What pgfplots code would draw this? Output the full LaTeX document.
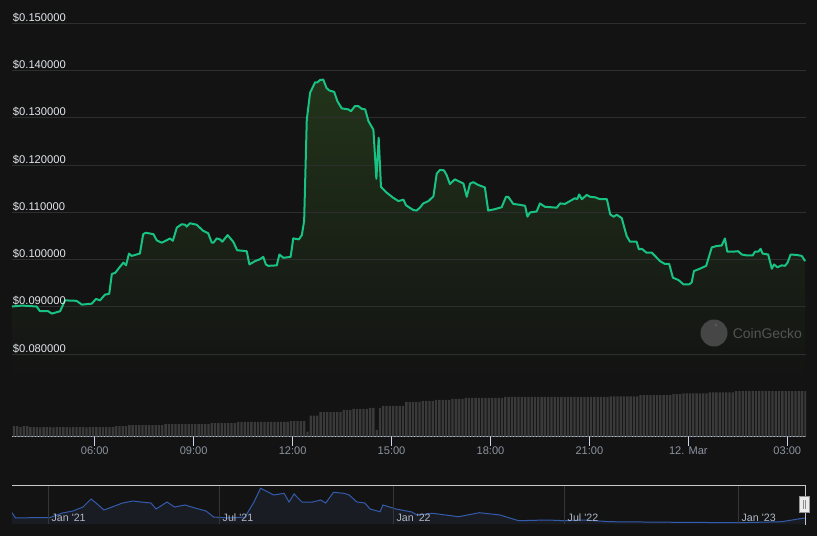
\documentclass[border=0pt]{standalone}
\usepackage{pgfplots}
\usepackage{pgfplotstable}
\pgfplotsset{compat=1.18}
\usepackage{fontspec}
\setmainfont{Liberation Sans}

\definecolor{bg}{RGB}{19,19,19}
\definecolor{gridc}{RGB}{46,46,46}
\definecolor{linegreen}{RGB}{24,194,131}
\definecolor{fillgreen}{RGB}{34,52,26}
\definecolor{volbar}{RGB}{58,58,58}
\definecolor{axisline}{RGB}{204,214,235}
\definecolor{xlab}{RGB}{140,148,160}
\definecolor{ylab}{RGB}{226,230,236}
\definecolor{navgrid}{RGB}{54,54,54}
\definecolor{navblue}{RGB}{51,92,173}
\definecolor{navfill}{RGB}{26,28,36}
\definecolor{navoutline}{RGB}{200,200,200}
\definecolor{navlab}{RGB}{176,184,196}
\definecolor{handlefill}{RGB}{236,236,236}
\definecolor{handledraw}{RGB}{150,150,150}
\definecolor{handlegrip}{RGB}{140,140,140}
\definecolor{wmcircle}{RGB}{70,70,70}
\definecolor{wmeye}{RGB}{88,88,88}
\definecolor{wmtext}{RGB}{84,84,84}

\pgfplotsset{
  pricepane/.style={
    at={(9pt,118.575pt)}, anchor=south west, scale only axis,
    width=595.5pt, height=265.95pt,
    xmin=3.492, xmax=27.567, ymin=0.075, ymax=0.150,
    axis line style={draw=none}, xtick=\empty,
    scaled y ticks=false, major tick length=0pt,
  },
}

% price, hours since 11 Mar 00:00 -> USD
\pgfplotstableread{
h p
3.49 0.0901
3.79 0.0903
4.24 0.0901
4.34 0.0891
4.59 0.0891
4.70 0.0886
4.95 0.0891
5.10 0.0914
5.45 0.0913
5.61 0.0905
5.91 0.0907
6.04 0.0917
6.16 0.0914
6.31 0.0926
6.44 0.0928
6.52 0.0970
6.62 0.0972
6.72 0.0981
6.87 0.0994
6.95 0.0988
7.04 0.1013
7.12 0.1008
7.37 0.1013
7.47 0.1054
7.55 0.1057
7.78 0.1054
7.88 0.1041
8.03 0.1036
8.18 0.1041
8.28 0.1045
8.37 0.1040
8.49 0.1068
8.64 0.1075
8.74 0.1074
8.79 0.1070
8.89 0.1077
9.09 0.1074
9.29 0.1061
9.44 0.1056
9.55 0.1036
9.60 0.1036
9.70 0.1045
9.80 0.1043
9.87 0.1038
10.03 0.1052
10.20 0.1038
10.32 0.1020
10.61 0.1018
10.69 0.0990
10.86 0.0997
11.01 0.1001
11.11 0.1006
11.19 0.0990
11.26 0.0987
11.52 0.0988
11.60 0.1011
11.72 0.1004
11.94 0.1006
12.02 0.1045
12.19 0.1043
12.28 0.1052
12.35 0.1082
12.43 0.1296
12.53 0.1353
12.68 0.1375
12.75 0.1375
12.83 0.1380
12.93 0.1381
13.03 0.1363
13.11 0.1358
13.26 0.1355
13.36 0.1335
13.49 0.1320
13.69 0.1318
13.77 0.1314
13.89 0.1325
13.99 0.1325
14.10 0.1319
14.20 0.1318
14.30 0.1293
14.45 0.1275
14.54 0.1171
14.61 0.1258
14.68 0.1154
14.85 0.1142
15.05 0.1131
15.21 0.1124
15.36 0.1127
15.44 0.1115
15.66 0.1105
15.76 0.1104
15.86 0.1110
15.96 0.1119
16.12 0.1124
16.27 0.1134
16.37 0.1182
16.47 0.1190
16.59 0.1189
16.67 0.1179
16.77 0.1160
16.92 0.1170
17.18 0.1161
17.28 0.1133
17.38 0.1161
17.48 0.1164
17.63 0.1158
17.83 0.1153
17.93 0.1104
18.14 0.1107
18.34 0.1111
18.47 0.1133
18.54 0.1133
18.69 0.1118
18.90 0.1116
19.05 0.1114
19.12 0.1091
19.20 0.1100
19.40 0.1102
19.50 0.1119
19.65 0.1112
20.01 0.1110
20.11 0.1119
20.26 0.1118
20.46 0.1126
20.56 0.1130
20.63 0.1128
20.69 0.1138
20.77 0.1128
20.92 0.1137
21.02 0.1133
21.17 0.1132
21.32 0.1128
21.53 0.1128
21.63 0.1096
21.73 0.1091
21.83 0.1095
21.98 0.1088
22.05 0.1070
22.13 0.1050
22.23 0.1038
22.43 0.1038
22.50 0.1022
22.59 0.1023
22.73 0.1015
22.89 0.1015
22.99 0.1008
23.14 0.0997
23.29 0.0991
23.42 0.0991
23.53 0.0962
23.70 0.0957
23.85 0.0948
24.03 0.0948
24.10 0.0952
24.17 0.0976
24.35 0.0981
24.54 0.0987
24.71 0.1026
24.86 0.1029
25.01 0.1030
25.11 0.1045
25.18 0.1017
25.36 0.1017
25.51 0.1018
25.62 0.1011
25.77 0.1009
25.95 0.1009
26.02 0.1017
26.12 0.1017
26.19 0.1023
26.25 0.1013
26.42 0.1011
26.53 0.0981
26.60 0.0990
26.70 0.0984
26.83 0.0988
26.93 0.0987
27.01 0.0994
27.10 0.1011
27.29 0.1010
27.44 0.1008
27.54 0.0997
}\price

% volume, bar heights (arbitrary units)
\pgfplotstableread{
h v
3.55 10.5
3.65 10.5
3.75 9.5
3.85 10.5
3.95 10.5
4.05 9.5
4.15 9.5
4.25 9.5
4.35 9.2
4.45 9.5
4.55 9.5
4.65 9.5
4.75 9.2
4.85 9.5
4.95 9.5
5.05 9.5
5.15 9.5
5.25 9.2
5.35 9.5
5.45 9.5
5.55 9.5
5.65 9.5
5.75 9.2
5.85 9.5
5.95 9.5
6.05 9.5
6.15 9.5
6.25 9.5
6.35 9.5
6.45 9.5
6.55 9.5
6.65 10.5
6.75 10.5
6.85 10.5
6.95 10.5
7.05 11.3
7.15 11.3
7.25 11.3
7.35 11.3
7.45 11.3
7.55 11.3
7.65 11.3
7.75 11.3
7.85 11.3
7.95 11.3
8.05 11.3
8.15 12.3
8.25 12.3
8.35 12.3
8.45 12.3
8.55 12.3
8.65 12.3
8.75 12.3
8.85 12.3
8.95 12.3
9.05 12.3
9.15 12.3
9.25 12.3
9.35 12.3
9.45 12.3
9.55 13.3
9.65 13.3
9.75 13.3
9.85 13.3
9.95 13.3
10.05 13.3
10.15 13.3
10.25 13.3
10.35 14.7
10.45 14.7
10.55 14.7
10.65 14.7
10.75 14.7
10.85 14.7
10.95 14.7
11.05 14.7
11.15 14.7
11.25 14.7
11.35 14.7
11.45 14.7
11.55 14.7
11.65 14.7
11.75 14.7
11.85 14.7
11.95 15.5
12.05 15.5
12.15 15.5
12.25 15.5
12.35 15.5
12.45 5.0
12.55 21.0
12.65 21.0
12.75 21.0
12.85 24.3
12.95 24.3
13.05 24.3
13.15 24.3
13.25 24.3
13.35 24.3
13.45 24.3
13.55 26.7
13.65 26.7
13.75 26.7
13.85 27.7
13.95 27.7
14.05 27.7
14.15 27.7
14.25 27.7
14.35 28.7
14.45 28.7
14.55 6.7
14.65 28.7
14.75 30.7
14.85 30.7
14.95 30.7
15.05 30.7
15.15 30.7
15.25 30.7
15.35 30.7
15.45 34.7
15.55 34.7
15.65 34.7
15.75 34.7
15.85 34.7
15.95 35.7
16.05 35.7
16.15 35.7
16.25 35.7
16.35 36.7
16.45 36.7
16.55 36.7
16.65 36.7
16.75 36.7
16.85 37.7
16.95 37.7
17.05 37.7
17.15 37.7
17.25 38.7
17.35 38.7
17.45 38.7
17.55 38.7
17.65 38.7
17.75 38.7
17.85 38.7
17.95 38.7
18.05 38.7
18.15 38.7
18.25 38.7
18.35 38.7
18.45 39.7
18.55 39.7
18.65 39.7
18.75 39.7
18.85 39.7
18.95 39.7
19.05 39.7
19.15 39.7
19.25 39.7
19.35 39.7
19.45 39.7
19.55 39.7
19.65 39.7
19.75 39.7
19.85 39.7
19.95 39.7
20.05 39.7
20.15 39.7
20.25 39.7
20.35 39.7
20.45 39.7
20.55 39.7
20.65 39.7
20.75 39.7
20.85 39.7
20.95 39.7
21.05 39.7
21.15 39.7
21.25 39.7
21.35 39.7
21.45 39.7
21.55 39.7
21.65 40.2
21.75 40.2
21.85 40.2
21.95 40.2
22.05 40.2
22.15 40.2
22.25 40.2
22.35 40.2
22.45 40.2
22.55 41.5
22.65 41.5
22.75 41.5
22.85 41.5
22.95 41.5
23.05 41.5
23.15 41.5
23.25 41.5
23.35 41.5
23.45 41.5
23.55 42.5
23.65 42.5
23.75 42.5
23.85 43.2
23.95 43.2
24.05 43.2
24.15 43.2
24.25 43.2
24.35 43.2
24.45 43.2
24.55 43.2
24.65 44.2
24.75 44.2
24.85 44.2
24.95 44.2
25.05 44.2
25.15 44.2
25.25 44.2
25.35 44.2
25.45 45.5
25.55 45.5
25.65 45.5
25.75 45.5
25.85 45.5
25.95 45.5
26.05 45.5
26.15 45.5
26.25 45.5
26.35 45.5
26.45 45.5
26.55 45.5
26.65 45.5
26.75 45.5
26.85 45.5
26.95 45.5
27.05 45.5
27.15 45.5
27.25 45.5
27.35 45.5
27.45 45.5
27.55 45.5
}\volume

% navigator, days since 1 Jan 2021
\pgfplotstableread{
d v
-38.1 11.3
-34.3 6
-18 6.3
1.6 6.3
15.3 11
26.4 13
37 17
45.5 25
50.8 21
59.2 14
67.7 17
78.8 21
89.9 23
98.4 22
109 21
114.3 15
125.9 22
133.9 17
144.9 19
155.5 16
167.2 13
175.2 7
191.5 6
208.4 7
217.9 22
224.8 35.7
232.8 32
238.7 29
249.7 30.7
255 22
260.3 30
268.7 22
280 22
288.3 24
293.8 21
302 31.7
313.2 30.7
318.5 29
326.9 22
335.2 21
340.7 15
351.2 12.3
354.4 19
368.2 15
384.8 12
390.4 9
406.8 10.7
434.4 7.3
456.4 11.3
478.2 9
497.8 3.3
527.9 4
547 3.3
566.7 4
594.3 2.3
665.5 1.7
732.1 1.3
776.1 2.3
798.2 5.7
801.9 6
}\nav

\begin{document}
\begin{tikzpicture}
\begin{scope}[x=0.75pt, y=0.75pt]
\fill[bg] (0,0) rectangle (817,536);
\useasboundingbox (0,0) rectangle (817,536);
\end{scope}

% price pane: area fill underneath
\begin{axis}[pricepane, ytick=\empty]
\addplot[draw=none, top color=fillgreen, bottom color=bg] table[x=h, y=p] {\price} |- (axis cs:3.49,0.075) -- cycle;
\end{axis}

% price pane: grid and line
\begin{axis}[pricepane,
    ytick={0.08,0.09,0.10,0.11,0.12,0.13,0.14,0.15},
    yticklabels={,,,,,,,},
    yticklabel style={inner sep=0pt},
    ymajorgrids, major grid style={color=gridc, line width=0.75pt},
]
\addplot[color=linegreen, line width=1.5pt, line join=round] table[x=h, y=p] {\price};
\end{axis}

% price pane: tick labels on top
\begin{axis}[pricepane,
    ytick={0.08,0.09,0.10,0.11,0.12,0.13,0.14,0.15},
    yticklabels={\$0.080000,\$0.090000,\$0.100000,\$0.110000,\$0.120000,\$0.130000,\$0.140000,\$0.150000},
    yticklabel style={anchor=base west, inner sep=0pt, xshift=0.5pt, yshift=1.6pt,
        font=\fontsize{8.4}{10}\selectfont, color=ylab},
    /pgf/number format/assume math mode=true,
]
\end{axis}

% volume pane
\begin{axis}[
    at={(9pt,74.625pt)}, anchor=south west, scale only axis,
    width=595.5pt, height=60pt,
    xmin=3.492, xmax=27.567, ymin=0, ymax=80,
    axis x line*=bottom, axis y line=none, ytick=\empty,
    x axis line style={color=axisline, line width=0.75pt},
    xtick={6,9,12,15,18,21,24,27},
    xticklabels={06:00,09:00,12:00,15:00,18:00,21:00,12. Mar,03:00},
    xtick align=outside, major tick length=6.75pt,
    xtick style={color=axisline, line width=0.75pt},
    xticklabel style={font=\fontsize{8.3}{10}\selectfont, color=xlab, inner sep=1pt},
]
\addplot[ybar, bar width=0.07, fill=volbar, draw=none] table[x=h, y=v] {\volume};
\end{axis}

% navigator
\begin{axis}[
    at={(9pt,9pt)}, anchor=south west, scale only axis,
    width=595.5pt, height=29.25pt,
    xmin=-38.1, xmax=801.9, ymin=0, ymax=39,
    axis on top,
    axis line style={draw=none}, ytick=\empty,
    xtick={0,181,365,546,730},
    xticklabels={Jan \textquotesingle21,Jul \textquotesingle21,Jan \textquotesingle22,Jul \textquotesingle22,Jan \textquotesingle23},
    major tick length=0pt,
    xmajorgrids, major grid style={color=navgrid, line width=0.6pt},
    xticklabel style={anchor=south west, inner sep=0pt, xshift=2.5pt, yshift=1.5pt,
        font=\fontsize{8}{10}\selectfont, color=navlab},
]
\addplot[draw=none, fill=navfill] table[x=d, y=v] {\nav} \closedcycle;
\addplot[color=navblue, line width=0.75pt] table[x=d, y=v] {\nav};
\end{axis}

\begin{scope}[x=0.75pt, y=0.75pt]
% navigator outline and handle
\draw[navoutline, line width=0.75pt] (12,51) -- (805.5,51) -- (805.5,11.5);
\filldraw[fill=handlefill, draw=handledraw, line width=0.6pt] (799.5,24) rectangle (809,40);
\draw[handlegrip, line width=0.5pt] (803,27.5) -- (803,36.5) (805.5,27.5) -- (805.5,36.5);
% watermark
\fill[wmcircle] (714,203) circle (13.5);
\fill[wmeye] (716,211) circle (1.6);
\node[anchor=west, inner sep=0pt, text=wmtext, font=\fontsize{10.5}{12}\selectfont] at (732.5,203) {CoinGecko};
\end{scope}
\end{tikzpicture}
\end{document}
